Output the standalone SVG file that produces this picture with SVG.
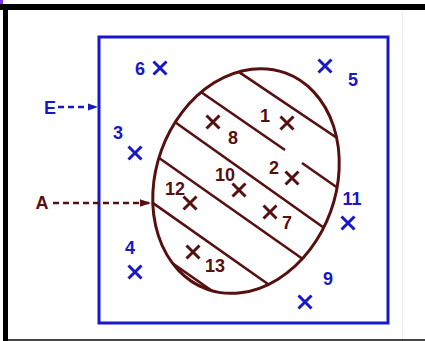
<svg xmlns="http://www.w3.org/2000/svg" width="425" height="341" viewBox="0 0 425 341">
<defs>
<style>
.b{stroke:#1818c8;fill:none}
.r{stroke:#561010;fill:none}
.x{stroke-width:3;stroke-linecap:butt}
.tb{fill:#1818c8;font-family:"Liberation Sans",Arial,sans-serif;font-weight:bold;font-size:18px;text-anchor:middle}
.tr{fill:#561010;font-family:"Liberation Sans",Arial,sans-serif;font-weight:bold;font-size:18px;text-anchor:middle}
.h{stroke:#561010;stroke-width:2.6;fill:none}
</style>
<marker id="ab" viewBox="0 0 10 10" refX="10" refY="5" markerWidth="10" markerHeight="10" markerUnits="userSpaceOnUse" orient="auto"><path d="M0,1.5 L10,5 L0,8.5 z" fill="#1818c8"/></marker>
<marker id="ar" viewBox="0 0 10 10" refX="10" refY="5" markerWidth="11" markerHeight="11" markerUnits="userSpaceOnUse" orient="auto"><path d="M0,1.5 L10,5 L0,8.5 z" fill="#561010"/></marker>
<clipPath id="ec"><ellipse cx="246" cy="181" rx="90" ry="115" transform="rotate(20 246 181)"/></clipPath>
</defs>
<rect width="425" height="341" fill="#ffffff"/>
<g id="frame">
<rect x="0" y="4" width="425" height="6" fill="#000"/>
<rect x="3" y="4" width="5" height="337" fill="#000"/>
<rect x="0" y="0" width="3" height="4" fill="#7a2cff"/>
<rect x="8" y="339" width="417" height="2" fill="#444"/>
<rect x="402" y="10" width="1" height="329" fill="#eeeeee"/>
</g>
<g id="universe">
<rect x="99" y="37" width="289" height="286" class="b" stroke-width="3"/>
</g>
<g id="setA">
<ellipse cx="246" cy="181" rx="90" ry="115" transform="rotate(20 246 181)" class="r" stroke-width="3"/>
<g clip-path="url(#ec)">
<line class="h" x1="232" y1="67.3" x2="347" y2="144.7"/>
<line class="h" x1="198" y1="90" x2="285" y2="150"/>
<line class="h" x1="302" y1="163" x2="345" y2="193"/>
<line class="h" x1="172" y1="120" x2="327" y2="230"/>
<line class="h" x1="152" y1="153" x2="307" y2="262"/>
<line class="h" x1="143" y1="196" x2="275" y2="289"/>
<line class="h" x1="155" y1="251" x2="225" y2="300"/>
</g>
</g>
<g id="connectors">
<line x1="58" y1="107" x2="98" y2="107" class="b" stroke-width="2.5" stroke-dasharray="6,4" marker-end="url(#ab)"/>
<line x1="53" y1="203" x2="151" y2="203" class="r" stroke-width="2.5" stroke-dasharray="6,4" marker-end="url(#ar)"/>
</g>
<g id="label-E"><text class="tb" x="50" y="113.5">E</text></g>
<g id="label-A"><text class="tr" x="42" y="208.5">A</text></g>
<g id="e6"><path class="b x" d="M153.5,61.5 l13,13 M166.5,61.5 l-13,13"/><text class="tb" x="140" y="74.5">6</text></g>
<g id="e5"><path class="b x" d="M318.5,59.5 l13,13 M331.5,59.5 l-13,13"/><text class="tb" x="353" y="85.5">5</text></g>
<g id="e3"><path class="b x" d="M128.5,146.5 l13,13 M141.5,146.5 l-13,13"/><text class="tb" x="118" y="138.5">3</text></g>
<g id="e11"><path class="b x" d="M341.5,216.5 l13,13 M354.5,216.5 l-13,13"/><text class="tb" x="352" y="204.5">11</text></g>
<g id="e4"><path class="b x" d="M128.5,265.5 l13,13 M141.5,265.5 l-13,13"/><text class="tb" x="130" y="253.5">4</text></g>
<g id="e9"><path class="b x" d="M298.5,295.5 l13,13 M311.5,295.5 l-13,13"/><text class="tb" x="328" y="284.5">9</text></g>
<g id="e1"><path class="r x" d="M280.5,116.5 l13,13 M293.5,116.5 l-13,13"/><text class="tr" x="265" y="121.5">1</text></g>
<g id="e8"><path class="r x" d="M206.5,115.5 l13,13 M219.5,115.5 l-13,13"/><text class="tr" x="233" y="143.5">8</text></g>
<g id="e2"><path class="r x" d="M285.5,171.5 l13,13 M298.5,171.5 l-13,13"/><text class="tr" x="274" y="173.5">2</text></g>
<g id="e10"><path class="r x" d="M232.5,183.5 l13,13 M245.5,183.5 l-13,13"/><text class="tr" x="225" y="180.5">10</text></g>
<g id="e12"><path class="r x" d="M183.5,196.5 l13,13 M196.5,196.5 l-13,13"/><text class="tr" x="175" y="194.5">12</text></g>
<g id="e7"><path class="r x" d="M263.5,205.5 l13,13 M276.5,205.5 l-13,13"/><text class="tr" x="287" y="228.5">7</text></g>
<g id="e13"><path class="r x" d="M186.5,245.5 l13,13 M199.5,245.5 l-13,13"/><text class="tr" x="215" y="271.5">13</text></g>
</svg>
